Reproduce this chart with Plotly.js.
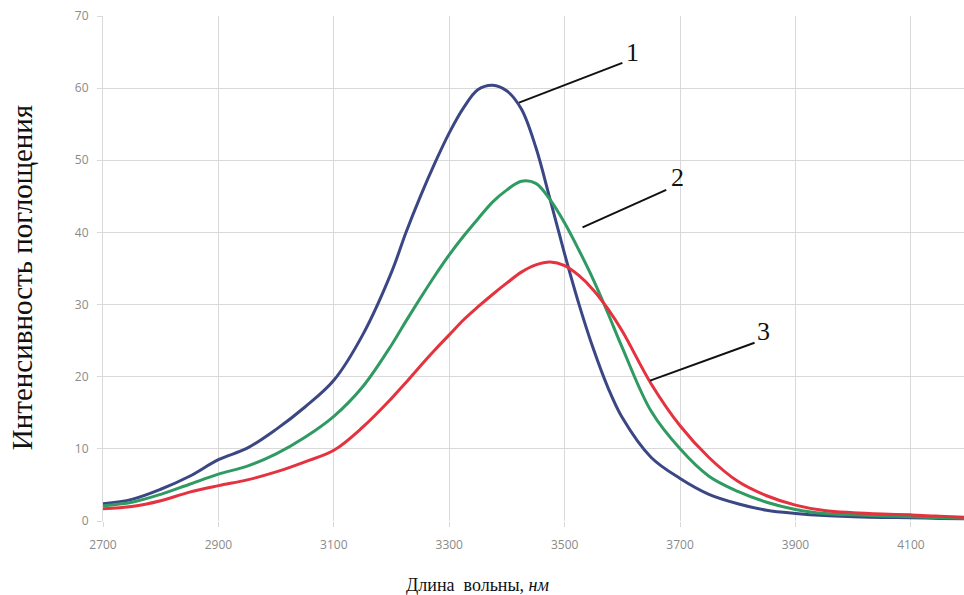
<!DOCTYPE html>
<html>
<head>
<meta charset="utf-8">
<script src="https://cdn.plot.ly/plotly-3.0.1.min.js"></script>
<style>html,body{margin:0;padding:0;background:#fff;}#chart{width:964px;height:595px;}</style>
</head>
<body>
<div id="chart"></div>
<script>
// Wavelength, nm
const wavelength = [2700,2750,2800,2850,2900,2950,3000,3050,3100,3150,3200,3225,3250,3275,3300,3325,3350,3375,3400,3425,3450,3475,3500,3525,3550,3575,3600,3650,3700,3750,3800,3850,3900,3950,4000,4050,4100,4150,4200];
// Curve 1 (blue)
const curve1 = [2.4,3.0,4.4,6.2,8.5,10.1,12.7,15.8,19.5,25.8,34.5,40.0,45.0,49.6,53.8,57.3,59.8,60.4,59.6,57.1,51.8,44.5,37.0,30.0,23.8,18.5,14.3,8.8,5.9,3.7,2.4,1.5,1.05,0.75,0.6,0.5,0.45,0.35,0.3];
// Curve 2 (green)
const curve2 = [2.1,2.6,3.7,5.1,6.5,7.6,9.3,11.6,14.5,18.6,24.4,27.7,30.9,34.0,36.9,39.5,41.9,44.2,45.9,47.1,46.8,44.5,41.3,37.5,33.4,28.8,24.0,15.2,10.0,6.2,4.1,2.6,1.6,1.05,0.85,0.7,0.6,0.45,0.35];
// Curve 3 (red)
const curve3 = [1.7,2.0,2.8,4.0,4.9,5.7,6.8,8.2,9.8,13.0,17.0,19.2,21.5,23.7,25.8,27.9,29.7,31.4,33.0,34.5,35.5,35.9,35.4,34.0,32.0,29.4,26.3,19.0,13.2,8.8,5.5,3.5,2.2,1.45,1.15,0.97,0.85,0.65,0.5];
const curveNames = ['1','2','3'];
const xTicks = [2700,2900,3100,3300,3500,3700,3900,4100];
const yTicks = [0,10,20,30,40,50,60,70];

const colors = ['#3b4784','#2f9a62','#e5323f'];
const series = [curve1, curve2, curve3];
const traces = series.map((s,i)=>({
  x: wavelength, y: s, type:'scatter', mode:'lines', name: curveNames[i],
  line:{color:colors[i], width:3, shape:'spline', smoothing:1}
}));

const serif = 'Liberation Serif, Times New Roman, serif';
// callout leader lines (data coords of start/end) and labels
const callouts = [
  {x0:3421,y0:58.0,x1:3600,y1:63.5,lx:3617,ly:65.0,t:curveNames[0]},
  {x0:3531,y0:40.7,x1:3676,y1:45.9,lx:3696,ly:47.6,t:curveNames[1]},
  {x0:3648,y0:19.45,x1:3829,y1:24.7,lx:3845,ly:26.3,t:curveNames[2]}
];
const shapes = callouts.map(c=>({type:'line',xref:'x',yref:'y',x0:c.x0,y0:c.y0,x1:c.x1,y1:c.y1,line:{color:'#111',width:2}}));
const annotations = callouts.map(c=>({xref:'x',yref:'y',x:c.lx,y:c.ly,text:c.t,showarrow:false,font:{family:serif,size:26,color:'#111'}}));
annotations.push({xref:'paper',yref:'paper',x:0.436,y:-0.127,text:'Длина\u00A0 вольны, <i>нм</i>',showarrow:false,font:{family:serif,size:18,color:'#111'},xanchor:'center',yanchor:'middle'});
annotations.push({xref:'paper',yref:'paper',x:-0.094,y:0.481,text:'Интенсивность поглощения',textangle:-90,showarrow:false,font:{family:serif,size:29,color:'#111'},xanchor:'center',yanchor:'middle'});

const layout = {
  width:964, height:595,
  margin:{l:103, r:0, t:16, b:74},
  paper_bgcolor:'#fff', plot_bgcolor:'#fff',
  showlegend:false,
  xaxis:{range:[2700,4192], tickvals:xTicks, ticktext:xTicks.map(String), showgrid:true, gridcolor:'#d9d9d9', gridwidth:1,
    zeroline:false, showline:false, ticks:'outside', ticklen:5, tickcolor:'#d9d9d9', ticklabelstandoff:8,
    tickfont:{family:'Open Sans, sans-serif', size:12, color:'#8a8a8a'}},
  yaxis:{range:[0,70], tickvals:yTicks, ticktext:yTicks.map(String), showgrid:true, gridcolor:'#d9d9d9', gridwidth:1,
    zeroline:false, showline:true, linecolor:'#d9d9d9', ticks:'outside', ticklen:5, tickcolor:'#d9d9d9', ticklabelstandoff:6,
    tickfont:{family:'Open Sans, sans-serif', size:12, color:'#8a8a8a'}},
  shapes: shapes,
  annotations: annotations
};
Plotly.newPlot('chart', traces, layout, {displayModeBar:false, staticPlot:true});
</script>
</body>
</html>
